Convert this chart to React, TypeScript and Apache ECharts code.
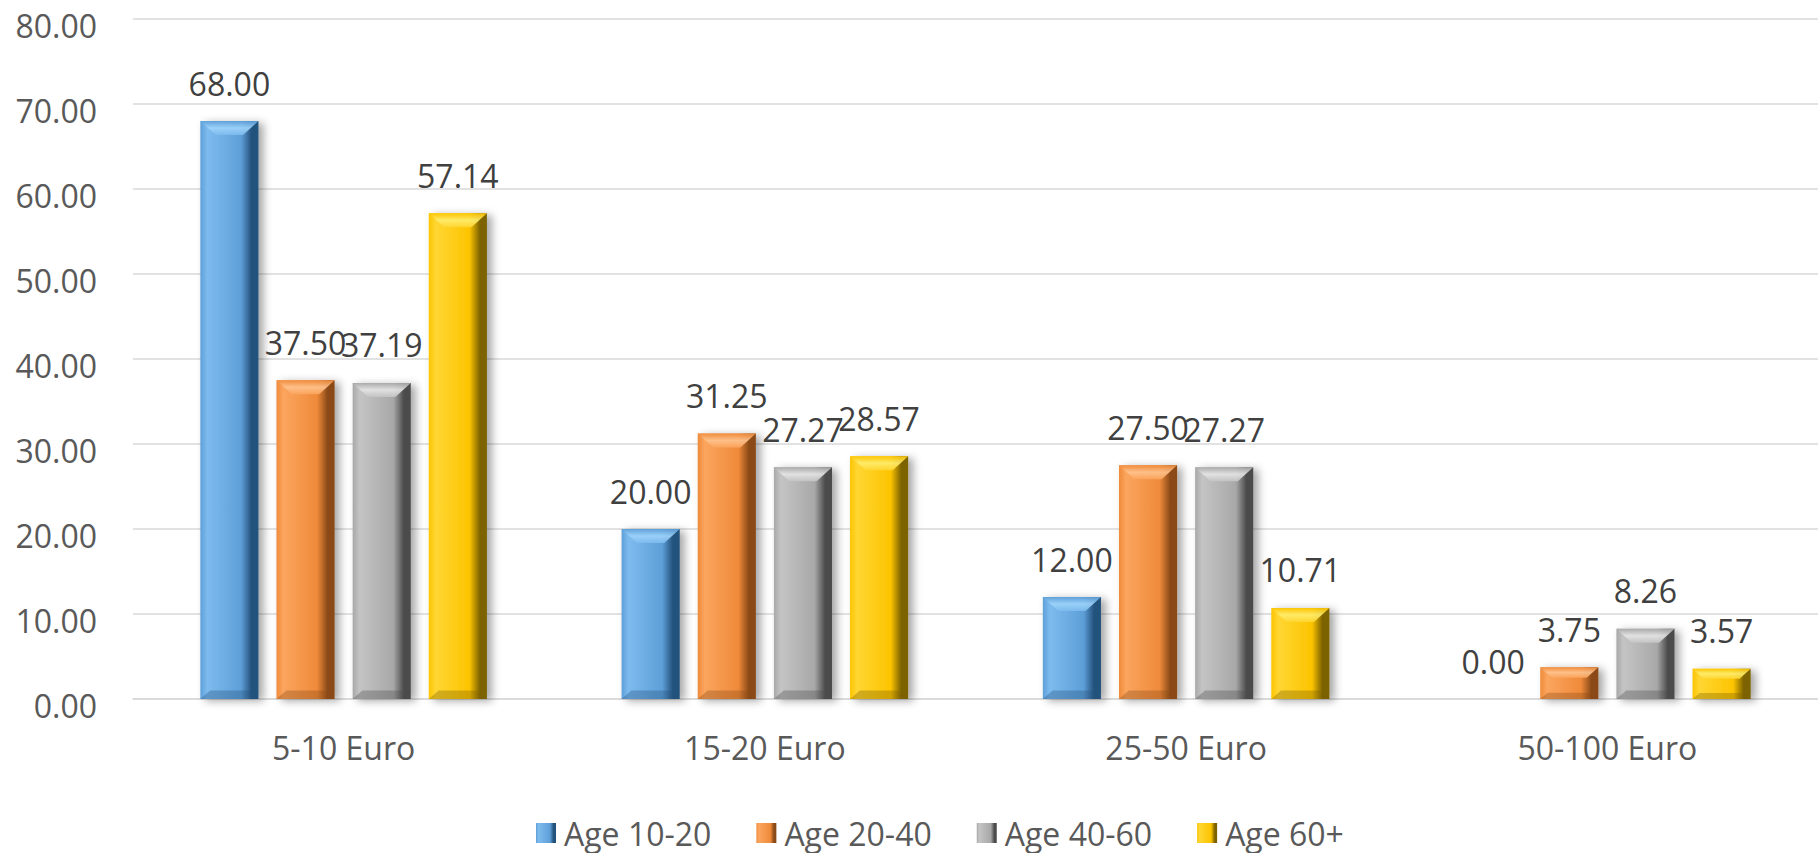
import React, { useEffect, useRef } from "react";
import * as echarts from "echarts";

const categories = ["5-10 Euro", "15-20 Euro", "25-50 Euro", "50-100 Euro"];
const seriesNames = ["Age 10-20", "Age 20-40", "Age 40-60", "Age 60+"];
const age10to20 = [68.0, 20.0, 12.0, 0.0];
const age20to40 = [37.5, 31.25, 27.5, 3.75];
const age40to60 = [37.19, 27.27, 27.27, 8.26];
const age60plus = [57.14, 28.57, 10.71, 3.57];
const yTicks = { min: 0, max: 80, interval: 10 };

const palettes = [
  { light: "#7dbbee", base: "#5e9fd8", dark: "#24527d", hi: "#9fd4fb" },
  { light: "#fba55e", base: "#ef8a3a", dark: "#8a4a17", hi: "#ffc48f" },
  { light: "#c4c4c4", base: "#a8a8a8", dark: "#4c4c4c", hi: "#e6e6e6" },
  { light: "#ffd633", base: "#fcc400", dark: "#7d6200", hi: "#ffee70" },
];

const BAR_W = 0.138;
const BAR_GAP = 0.31;
const FONT = "'Open Sans', 'Noto Sans', sans-serif";
const TEXT = "#595959";

export default function App() {
  const ref = useRef<HTMLDivElement>(null);
  useEffect(() => {
    if (!ref.current) return;
    const chart = echarts.init(ref.current, undefined, { renderer: "svg" });
    const datasets = [age10to20, age20to40, age40to60, age60plus];
    const bars = datasets.map((d, i) => {
      const p = palettes[i];
      return {
        name: seriesNames[i],
        type: "bar",
        data: d,
        barWidth: (BAR_W * 100).toFixed(1) + "%",
        barGap: BAR_GAP * 100 + "%",
        itemStyle: {
          color: new echarts.graphic.LinearGradient(0, 0, 1, 0, [
            { offset: 0, color: p.base },
            { offset: 0.12, color: p.light },
            { offset: 0.7, color: p.base },
            { offset: 0.88, color: p.dark },
            { offset: 1, color: p.dark },
          ]),
          shadowColor: "rgba(0,0,0,0.35)",
          shadowBlur: 8,
          shadowOffsetX: 5,
          shadowOffsetY: 2,
        },
        label: {
          show: true,
          position: "top",
          distance: 22,
          formatter: (v: any) => Number(v.value).toFixed(2),
          fontFamily: FONT,
          fontSize: 32,
          color: "#404040",
        },
      };
    });
    const bevels = datasets.map((d, i) => {
      const p = palettes[i];
      return {
        name: "bevel" + i,
        type: "custom",
        z: 5,
        silent: true,
        data: d.map((v, k) => [k, v]),
        encode: { x: 0, y: 1 },
        renderItem: (params: any, api: any) => {
          const idx = api.value(0);
          const v = api.value(1);
          const base = api.coord([idx, 0]);
          const top = api.coord([idx, v]);
          const band = api.size([1, 0])[0];
          const bw = band * BAR_W;
          const gap = bw * BAR_GAP;
          const cx = base[0] + (i - 1.5) * (bw + gap);
          const x0 = cx - bw / 2;
          const x1 = cx + bw / 2;
          const h = base[1] - top[1];
          if (h < 2) return null;
          const b = Math.min(14, h / 3);
          const yT = top[1];
          const yB = base[1];
          return {
            type: "group",
            children: [
              {
                type: "polygon",
                shape: {
                  points: [
                    [x0, yT],
                    [x1, yT],
                    [x1 - b * 1.1, yT + b],
                    [x0 + b * 1.1, yT + b],
                  ],
                },
                style: {
                  fill: new echarts.graphic.LinearGradient(0, 0, 0, 1, [
                    { offset: 0, color: p.base },
                    { offset: 0.5, color: p.hi },
                    { offset: 1, color: p.light },
                  ]),
                  opacity: 0.9,
                },
              },
              {
                type: "polygon",
                shape: {
                  points: [
                    [x0, yB],
                    [x1, yB],
                    [x1 - b * 0.7, yB - b * 0.6],
                    [x0 + b * 0.7, yB - b * 0.6],
                  ],
                },
                style: { fill: p.dark, opacity: 0.35 },
              },
            ],
          };
        },
      };
    });
    chart.setOption({
      animation: false,
      backgroundColor: "#ffffff",
      grid: { left: 133, right: 0, top: 19, bottom: 154, containLabel: false },
      legend: {
        data: seriesNames,
        left: 531,
        top: 812,
        icon: "rect",
        itemWidth: 20,
        itemHeight: 20,
        itemGap: 45,
        textStyle: { fontFamily: FONT, fontSize: 32, color: TEXT, padding: [0, 0, 0, 3] },
      },
      xAxis: {
        type: "category",
        data: categories,
        axisLine: { show: true, lineStyle: { color: "#d9d9d9", width: 1.5 } },
        axisTick: { show: false },
        axisLabel: { fontFamily: FONT, fontSize: 32, color: TEXT, margin: 32 },
      },
      yAxis: {
        type: "value",
        min: yTicks.min,
        max: yTicks.max,
        interval: yTicks.interval,
        axisLine: { show: false },
        axisTick: { show: false },
        splitLine: { lineStyle: { color: "#d9d9d9", width: 1.5 } },
        axisLabel: {
          fontFamily: FONT,
          fontSize: 32,
          lineHeight: 12,
          verticalAlign: "top",
          color: TEXT,
          margin: 36,
          formatter: (v: number) => v.toFixed(2),
        },
      },
      series: [...bars, ...bevels],
    });
    return () => chart.dispose();
  }, []);
  return (
    <div
      ref={ref}
      style={{ position: "fixed", left: 0, top: 0, width: 1818, height: 853, background: "#fff" }}
    />
  );
}
